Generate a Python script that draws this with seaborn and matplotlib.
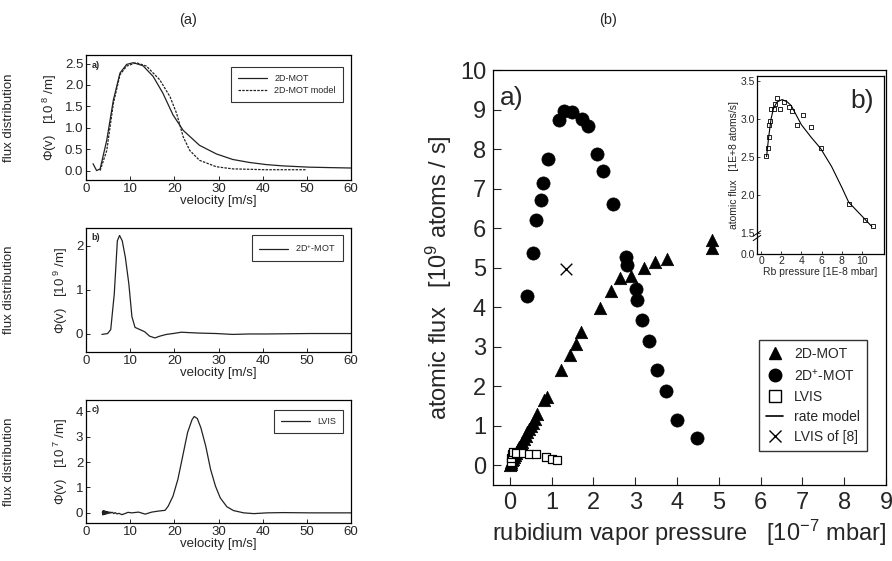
import numpy as np
import pandas as pd
import matplotlib
matplotlib.use("Agg")
import matplotlib.pyplot as plt
import seaborn as sns
from matplotlib.lines import Line2D

# ---- left column: velocity distributions ----
mot_v = [1.6, 2.4, 3.2, 4.7, 6.2, 7.7, 9.2, 10.7, 12.9, 15.2, 17.4, 19.7, 22.0,
         25.7, 29.5, 33.2, 37.0, 40.8, 44.5, 50.5, 55.0, 60.0]
mot_phi = [0.16, 0.0, 0.04, 0.71, 1.65, 2.28, 2.48, 2.52, 2.45, 2.20, 1.81, 1.30,
           0.94, 0.59, 0.39, 0.26, 0.19, 0.14, 0.11, 0.08, 0.07, 0.06]

model_v = [3.2, 4.7, 6.2, 7.7, 9.2, 11.4, 13.7, 16.7, 19.0, 20.5, 22.0, 23.5,
           25.7, 29.5, 33.2, 40.8, 48.3, 50.0]
model_phi = [0.0, 0.47, 1.57, 2.24, 2.44, 2.52, 2.44, 2.12, 1.73, 1.34, 0.79, 0.47,
             0.24, 0.09, 0.04, 0.02, 0.02, 0.02]

plus_v = [3.6, 4.9, 5.6, 6.4, 7.1, 7.6, 8.2, 8.9, 9.7, 10.4, 11.1, 12.2, 13.3, 14.4,
          15.6, 16.7, 18.2, 19.7, 21.6, 23.5, 25.7, 29.5, 33.2, 37.0, 40.8, 50.5, 60.0]
plus_phi = [-0.02, 0.0, 0.09, 0.90, 2.11, 2.23, 2.11, 1.74, 1.13, 0.38, 0.14, 0.09,
            0.04, -0.06, -0.10, -0.06, -0.02, 0.0, 0.03, 0.02, 0.01, 0.0, -0.02,
            -0.01, -0.01, 0.0, 0.0]

lvis_v = [3.7, 3.8, 3.9, 4.0, 4.1, 4.2, 4.3, 4.4, 4.5, 4.6, 4.7, 4.8, 4.9, 5.0, 5.2,
          5.4, 5.6, 5.8, 6.0, 6.3, 6.6, 7.0, 7.5, 8.1, 8.8, 9.5, 10.4, 11.9, 13.4,
          14.9, 16.4, 17.9, 18.6, 19.7, 20.8, 21.9, 23.0, 24.0, 24.5, 25.2, 26.0,
          27.1, 28.2, 29.3, 30.4, 31.9, 33.4, 35.7, 38.0, 41.0, 44.7, 50.7, 60.0]
lvis_phi = [0.03, -0.08, 0.09, -0.07, 0.08, -0.06, 0.07, -0.05, 0.06, -0.04, 0.05,
            -0.03, 0.04, -0.03, 0.04, -0.02, 0.03, 0.0, 0.02, -0.03, 0.01, -0.04,
            -0.02, -0.07, -0.03, 0.02, 0.0, 0.03, -0.05, 0.03, 0.07, 0.10, 0.26,
            0.66, 1.32, 2.24, 3.17, 3.67, 3.80, 3.72, 3.36, 2.64, 1.72, 1.06, 0.59,
            0.24, 0.09, 0.0, -0.03, 0.0, 0.01, 0.0, 0.0]

# ---- right: atomic flux vs rubidium pressure ----
tri_p = [0.0, 0.02, 0.04, 0.06, 0.08, 0.1, 0.12, 0.14, 0.17, 0.2, 0.23, 0.26, 0.3,
         0.34, 0.38, 0.42, 0.46, 0.5, 0.55, 0.6, 0.65, 0.82, 0.88, 1.23, 1.44, 1.58,
         1.70, 2.17, 2.43, 2.63, 2.91, 3.20, 3.48, 3.75, 4.85, 4.85]
tri_flux = [0.0, 0.03, 0.08, 0.12, 0.16, 0.2, 0.25, 0.3, 0.35, 0.42, 0.47, 0.52, 0.6,
            0.67, 0.74, 0.83, 0.92, 1.0, 1.08, 1.16, 1.29, 1.65, 1.73, 2.42, 2.80,
            3.06, 3.38, 3.99, 4.41, 4.75, 4.78, 4.98, 5.15, 5.23, 5.70, 5.49]

circ_p = [0.41, 0.55, 0.64, 0.74, 0.80, 0.91, 1.18, 1.29, 1.49, 1.72, 1.88, 2.09,
          2.24, 2.47, 2.77, 2.81, 3.01, 3.04, 3.17, 3.33, 3.53, 3.73, 4.01, 4.49]
circ_flux = [4.28, 5.38, 6.20, 6.71, 7.13, 7.75, 8.73, 8.97, 8.93, 8.75, 8.59, 7.87,
             7.44, 6.61, 5.27, 5.06, 4.45, 4.19, 3.67, 3.15, 2.42, 1.88, 1.14, 0.69]

sq_p = [0.02, 0.04, 0.06, 0.08, 0.14, 0.31, 0.46, 0.63, 0.87, 1.01, 1.13]
sq_flux = [0.08, 0.18, 0.28, 0.34, 0.31, 0.31, 0.29, 0.28, 0.21, 0.17, 0.14]

x8_p = [1.35]
x8_flux = [4.96]

# ---- inset ----
ins_p = [0.53, 0.7, 0.77, 0.83, 0.9, 1.0, 1.27, 1.4, 1.6, 1.9, 2.23, 2.77, 3.1,
         3.53, 4.17, 4.97, 5.9, 8.7, 10.33, 11.1]
ins_flux = [2.51, 2.62, 2.76, 2.92, 2.97, 3.12, 3.12, 3.19, 3.27, 3.13, 3.22, 3.15,
            3.10, 2.92, 3.05, 2.89, 2.61, 1.88, 1.67, 1.59]
rate_p = [0.55, 0.75, 1.0, 1.25, 1.6, 2.1, 2.6, 3.0, 4.0, 5.0, 5.9, 7.0, 8.0, 8.7,
          10.0, 11.0]
rate_flux = [2.50, 2.75, 3.00, 3.14, 3.22, 3.25, 3.22, 3.17, 2.92, 2.75, 2.61, 2.37,
             2.10, 1.90, 1.72, 1.58]

inset_ticks = [1.22, 1.5, 2.0, 2.5, 3.0, 3.5]
inset_ticklabels = ["0.0", "1.5", "2.0", "2.5", "3.0", "3.5"]

sns.set_style("ticks")
plt.rcParams["font.family"] = ["Liberation Sans", "DejaVu Sans"]
plt.rcParams["mathtext.default"] = "regular"
plt.rcParams["xtick.direction"] = "in"
plt.rcParams["ytick.direction"] = "in"
plt.rcParams["axes.edgecolor"] = "black"
plt.rcParams["axes.linewidth"] = 0.9

W, H = 892, 561
fig = plt.figure(figsize=(W / 100, H / 100), dpi=100)


def box(x0, y0, x1, y1):
    return [x0 / W, 1 - y1 / H, (x1 - x0) / W, (y1 - y0) / H]


left_panels = [
    (box(86, 55, 351, 180), (-0.22, 2.7), [0.0, 0.5, 1.0, 1.5, 2.0, 2.5], "a)", "8"),
    (box(86, 228, 351, 352), (-0.42, 2.4), [0, 1, 2], "b)", "9"),
    (box(86, 400, 351, 523), (-0.4, 4.45), [0, 1, 2, 3, 4], "c)", "7"),
]

curves = [
    [(mot_v, mot_phi, "-", "2D-MOT"), (model_v, model_phi, (0, (2, 1)), "2D-MOT model")],
    [(plus_v, plus_phi, "-", "2D$^{+}$-MOT")],
    [(lvis_v, lvis_phi, "-", "LVIS")],
]
legend_top = [0.905, 0.945, 0.92]

for (rect, ylim, yt, tag, expo), lines, ltop in zip(left_panels, curves, legend_top):
    ax = fig.add_axes(rect)
    for xs, ys, ls, lab in lines:
        sns.lineplot(x=xs, y=ys, ax=ax, color="#222222", lw=0.9, linestyle=ls,
                     label=lab, sort=False)
    ax.set_xlim(0, 60)
    ax.set_ylim(*ylim)
    ax.set_yticks(yt)
    if tag == "a)":
        ax.set_yticklabels([f"{v:.1f}" for v in yt])
    ax.set_xticks([0, 10, 20, 30, 40, 50, 60])
    ax.tick_params(labelsize=9.5, length=3, width=0.7, pad=2)
    ax.set_xlabel("velocity [m/s]", fontsize=9.5, labelpad=0)
    ax.set_ylabel("Φ(v)   [10$^{\\ %s}$ /m]" % expo, fontsize=9.5, labelpad=4)
    ax.text(-0.29, 0.5, "flux distribution", rotation=90, transform=ax.transAxes,
            ha="center", va="center", fontsize=9.5)
    ax.text(0.02, 0.92, tag, transform=ax.transAxes, fontsize=6.5,
            fontweight="bold", va="center")
    leg = ax.legend(loc="upper right", bbox_to_anchor=(0.97, ltop), fontsize=6.5,
                    frameon=True, fancybox=False, edgecolor="black",
                    handlelength=3.2, borderpad=0.8, labelspacing=0.3,
                    borderaxespad=0)
    leg.get_frame().set_linewidth(0.8)

fig.text(188 / W, 1 - 20 / H, "(a)", ha="center", va="center", fontsize=10.5)
fig.text(608 / W, 1 - 20 / H, "(b)", ha="center", va="center", fontsize=10.5)

# ---- main right panel ----
ax = fig.add_axes(box(493, 70, 886, 485))
sns.scatterplot(x=tri_p, y=tri_flux, ax=ax, marker="^", s=80, color="black",
                edgecolor="black", linewidth=0.5)
sns.scatterplot(x=circ_p, y=circ_flux, ax=ax, marker="o", s=90, color="black",
                edgecolor="black", linewidth=0.5)
sns.scatterplot(x=sq_p, y=sq_flux, ax=ax, marker="s", s=40, facecolor="white",
                edgecolor="black", linewidth=0.9)
sns.scatterplot(x=x8_p, y=x8_flux, ax=ax, marker="x", s=70, color="black",
                linewidth=1.0)
ax.set_xlim(-0.4, 9)
ax.set_ylim(-0.5, 10)
ax.set_xticks(range(0, 10))
ax.set_yticks(range(0, 11))
ax.tick_params(labelsize=17, length=6, width=0.8, pad=5)
ax.set_xlabel("rubidium vapor pressure   [10$^{-7}$ mbar]", fontsize=17, labelpad=3)
ax.set_ylabel("atomic flux   [10$^{9}$ atoms / s]", fontsize=17, labelpad=4)
ax.text(0.018, 0.933, "a)", transform=ax.transAxes, fontsize=19, va="center")

handles = [
    Line2D([], [], marker="^", color="black", ls="none", markersize=9),
    Line2D([], [], marker="o", color="black", ls="none", markersize=9),
    Line2D([], [], marker="s", markerfacecolor="white", markeredgecolor="black",
           ls="none", markersize=8),
    Line2D([], [], color="black", lw=1.2),
    Line2D([], [], marker="x", color="black", ls="none", markersize=9),
]
labels = ["2D-MOT", "2D$^{+}$-MOT", "LVIS", "rate model", "LVIS of [8]"]
leg = ax.legend(handles, labels, loc="lower right", bbox_to_anchor=(0.952, 0.082),
                fontsize=10, frameon=True, fancybox=False, edgecolor="black",
                handlelength=1.2, labelspacing=0.45, borderpad=0.5,
                borderaxespad=0)
leg.get_frame().set_linewidth(1.0)

# ---- inset ----
ins = fig.add_axes(box(757, 76, 884, 254))
sns.lineplot(x=rate_p, y=rate_flux, ax=ins, color="black", lw=0.8)
sns.scatterplot(x=ins_p, y=ins_flux, ax=ins, marker="s", s=9, facecolor="white",
                edgecolor="black", linewidth=0.6)
ins.set_xlim(-0.4, 12.2)
ins.set_ylim(1.22, 3.56)
ins.set_xticks([0, 2, 4, 6, 8, 10])
ins.set_yticks(inset_ticks)
ins.set_yticklabels(inset_ticklabels)
ins.tick_params(labelsize=7.5, length=2.5, width=0.6, pad=1.5)
ins.set_xlabel("Rb pressure [1E-8 mbar]", fontsize=7.5, labelpad=1)
ins.set_ylabel("atomic flux   [1E+8 atoms/s]", fontsize=7.5, labelpad=1)
ins.text(0.83, 0.86, "b)", transform=ins.transAxes, fontsize=19, ha="center",
         va="center")
for dy in (0.0, 0.025):
    ins.plot([-0.03, 0.03], [0.075 + dy, 0.105 + dy], transform=ins.transAxes,
             color="black", lw=0.7, clip_on=False)

fig.savefig("out.png", dpi=100)
